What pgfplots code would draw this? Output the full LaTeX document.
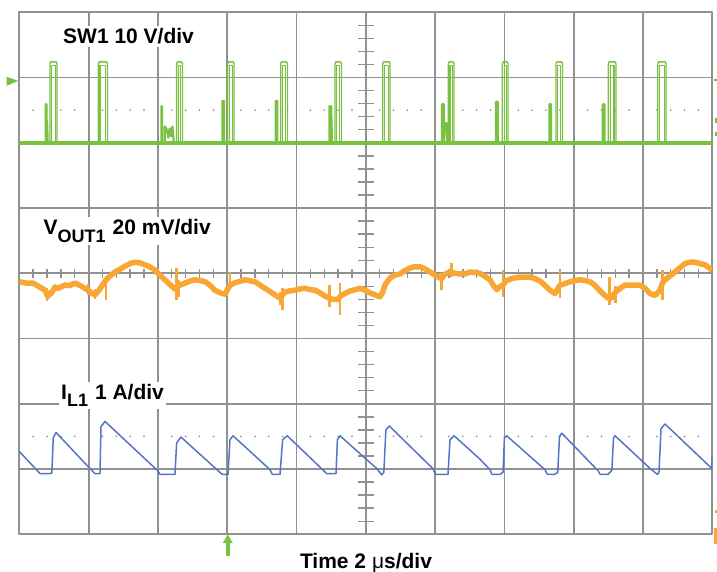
\documentclass[border=0pt]{standalone}
\usepackage{pgfplots}
\pgfplotsset{compat=1.18}
\usepackage{fontspec}
\setmainfont{Liberation Sans}
\definecolor{swgreen}{RGB}{122,193,66}
\definecolor{voorange}{RGB}{248,166,52}
\definecolor{ilblue}{RGB}{84,117,196}
\definecolor{gridgray}{RGB}{145,145,145}
\definecolor{dotgray}{RGB}{150,150,150}

\begin{document}
\begin{tikzpicture}[x=1pt,y=1pt]
\path[use as bounding box] (0,0) rectangle (717,572);
\begin{axis}[
  at={(19.3pt,37.7pt)}, anchor=south west,
  scale only axis, width=693pt, height=522pt,
  xmin=0, xmax=10, ymin=-4, ymax=4,
  xtick={0,...,10}, ytick={-4,...,4},
  xticklabel=\empty, yticklabel=\empty,
  major tick length=0pt,
  grid=major,
  grid style={gridgray, line width=1.8pt},
  axis line style={gridgray, line width=1.8pt},
  unbounded coords=jump,
  line join=round,
]
% graticule ticks on the centre lines
\pgfplotsinvokeforeach{0.2,0.4,...,9.9}{\draw[gridgray, line width=1.4pt] (axis cs:#1,-0.065) -- (axis cs:#1,0.065);}
\pgfplotsinvokeforeach{-3.8,-3.6,...,3.9}{\draw[gridgray, line width=1.4pt] (axis cs:4.885,#1) -- (axis cs:5.115,#1);}
% dotted reference levels
\addplot[dotgray, line width=2pt, line cap=round, dash pattern=on 0pt off 13.86pt] coordinates {(0,2.5) (10,2.5)};
\addplot[dotgray, line width=2pt, line cap=round, dash pattern=on 0pt off 13.86pt] coordinates {(0,-2.5) (10,-2.5)};

% ---------------- SW1 ----------------
\addplot[swgreen, line width=3.5pt] coordinates {(0,2.0) (10,2.0)};
\addplot[swgreen, line width=1.4pt] coordinates {
(0,2.0)
(0.443,2.0)(0.443,3.21)(0.455,3.24)(0.532,3.24)(0.544,3.21)(0.544,2.0)
(1.140,2.0)(1.140,3.21)(1.152,3.24)(1.261,3.24)(1.273,3.21)(1.273,2.0)
(2.270,2.0)(2.270,3.21)(2.282,3.24)(2.343,3.24)(2.355,3.21)(2.355,2.0)
(3.007,2.0)(3.007,3.21)(3.019,3.24)(3.086,3.24)(3.098,3.21)(3.098,2.0)
(3.772,2.0)(3.772,3.21)(3.784,3.24)(3.858,3.24)(3.870,3.21)(3.870,2.0)
(4.556,2.0)(4.556,3.21)(4.568,3.24)(4.637,3.24)(4.649,3.21)(4.649,2.0)
(5.244,2.0)(5.244,3.21)(5.256,3.24)(5.337,3.24)(5.349,3.21)(5.349,2.0)
(6.190,2.0)(6.190,3.21)(6.202,3.24)(6.261,3.24)(6.273,3.21)(6.273,2.0)
(6.970,2.0)(6.970,3.21)(6.982,3.24)(7.040,3.24)(7.052,3.21)(7.052,2.0)
(7.745,2.0)(7.745,3.21)(7.757,3.24)(7.826,3.24)(7.838,3.21)(7.838,2.0)
(8.500,2.0)(8.500,3.21)(8.512,3.24)(8.598,3.24)(8.610,3.21)(8.610,2.0)
(9.212,2.0)(9.212,3.21)(9.224,3.24)(9.320,3.24)(9.332,3.21)(9.332,2.0)
(10,2.0)};
\addplot[swgreen, line width=1.1pt] coordinates {
(0.468,2.0)(0.468,3.19)(0.516,3.19)(0.516,2.0)(0.5,nan)
(1.165,2.0)(1.165,3.19)(1.245,3.19)(1.245,2.0)(1.2,nan)
(2.295,2.0)(2.295,3.19)(2.327,3.19)(2.327,2.0)(2.3,nan)
(3.032,2.0)(3.032,3.19)(3.070,3.19)(3.070,2.0)(3.05,nan)
(3.797,2.0)(3.797,3.19)(3.842,3.19)(3.842,2.0)(3.8,nan)
(4.581,2.0)(4.581,3.19)(4.621,3.19)(4.621,2.0)(4.6,nan)
(5.269,2.0)(5.269,3.19)(5.321,3.19)(5.321,2.0)(5.3,nan)
(6.215,2.0)(6.215,3.19)(6.245,3.19)(6.245,2.0)(6.23,nan)
(6.995,2.0)(6.995,3.19)(7.024,3.19)(7.024,2.0)(7.0,nan)
(7.770,2.0)(7.770,3.19)(7.810,3.19)(7.810,2.0)(7.8,nan)
(8.525,2.0)(8.525,3.19)(8.582,3.19)(8.582,2.0)(8.55,nan)
(9.237,2.0)(9.237,3.19)(9.304,3.19)(9.304,2.0)};
% pre-spikes
\addplot[swgreen, line width=2.2pt] coordinates {
(0.380,2.0)(0.380,2.59)(0.392,2.59)(0.392,2.0)(0.40,2.35)(0.41,2.0)(0.42,nan)
(2.050,2.0)(2.050,2.56)(2.060,2.56)(2.060,2.0)(2.07,nan)
(2.100,2.0)(2.100,2.25)(2.130,2.20)(2.150,2.08)(2.170,2.22)(2.190,2.10)(2.210,2.25)(2.230,2.0)(2.24,nan)
(2.930,2.0)(2.930,2.64)(2.955,2.64)(2.955,2.0)(2.96,nan)
(3.700,2.0)(3.700,2.64)(3.722,2.64)(3.722,2.0)(3.73,nan)
(4.475,2.0)(4.475,2.56)(4.500,2.56)(4.510,2.10)(4.510,2.0)(4.52,nan)
(6.100,2.0)(6.100,2.59)(6.125,2.59)(6.125,2.0)(6.150,2.30)(6.175,2.30)(6.175,2.0)(6.18,nan)
(6.880,2.0)(6.880,2.63)(6.905,2.63)(6.905,2.0)(6.91,nan)
(7.650,2.0)(7.650,2.59)(7.673,2.59)(7.673,2.0)(7.68,nan)
(8.420,2.0)(8.420,2.59)(8.443,2.59)(8.443,2.0)};

% ---------------- VOUT1 ----------------
\addplot[voorange, line width=5.5pt] table {
0.000 -0.13
0.100 -0.15
0.198 -0.15
0.280 -0.20
0.371 -0.26
0.400 -0.33
0.414 -0.36
0.430 -0.30
0.460 -0.31
0.515 -0.21
0.560 -0.23
0.659 -0.18
0.720 -0.19
0.804 -0.15
0.900 -0.20
0.991 -0.26
1.040 -0.30
1.092 -0.33
1.120 -0.30
1.164 -0.24
1.237 -0.12
1.300 -0.05
1.381 0.02
1.450 0.06
1.526 0.11
1.600 0.15
1.670 0.17
1.740 0.16
1.814 0.13
1.880 0.10
1.958 0.05
2.030 -0.03
2.102 -0.10
2.180 -0.18
2.247 -0.24
2.300 -0.19
2.391 -0.15
2.460 -0.12
2.535 -0.10
2.600 -0.11
2.680 -0.13
2.750 -0.18
2.824 -0.26
2.900 -0.30
2.968 -0.32
3.040 -0.18
3.100 -0.15
3.257 -0.10
3.401 -0.13
3.545 -0.23
3.690 -0.33
3.762 -0.38
3.830 -0.29
3.900 -0.27
3.978 -0.26
4.050 -0.24
4.123 -0.23
4.200 -0.25
4.267 -0.26
4.340 -0.30
4.411 -0.35
4.470 -0.38
4.527 -0.40
4.600 -0.40
4.640 -0.34
4.700 -0.31
4.772 -0.27
4.850 -0.25
4.916 -0.23
4.988 -0.26
5.060 -0.30
5.133 -0.33
5.205 -0.36
5.240 -0.30
5.277 -0.18
5.349 -0.07
5.420 -0.03
5.493 -0.01
5.560 0.04
5.638 0.08
5.700 0.10
5.782 0.10
5.850 0.07
5.926 0.02
6.000 -0.03
6.070 -0.07
6.100 -0.08
6.130 -0.02
6.215 0.02
6.290 0.00
6.359 -0.01
6.430 -0.01
6.504 0.02
6.580 0.01
6.648 0.00
6.720 -0.05
6.792 -0.10
6.850 -0.20
6.893 -0.25
6.940 -0.20
6.980 -0.18
7.020 -0.12
7.081 -0.09
7.150 -0.07
7.225 -0.06
7.300 -0.06
7.369 -0.06
7.440 -0.08
7.514 -0.12
7.580 -0.18
7.658 -0.26
7.730 -0.31
7.802 -0.18
7.870 -0.16
7.947 -0.13
8.020 -0.11
8.091 -0.10
8.160 -0.11
8.235 -0.13
8.300 -0.18
8.380 -0.27
8.440 -0.33
8.495 -0.38
8.540 -0.38
8.596 -0.30
8.670 -0.23
8.740 -0.18
8.850 -0.18
8.957 -0.18
9.030 -0.23
9.101 -0.31
9.173 -0.34
9.245 -0.26
9.280 -0.15
9.317 -0.10
9.390 -0.04
9.462 0.02
9.530 0.08
9.606 0.15
9.680 0.17
9.750 0.17
9.820 0.15
9.895 0.13
9.996 0.05
};
% VOUT1 noise spikes
\addplot[voorange, line width=2.6pt] coordinates {
(0.40,-0.42)(0.40,-0.22)(0.45,nan)
(0.99,-0.34)(0.99,-0.16)(1.0,nan)
(1.09,-0.40)(1.09,-0.24)(1.1,nan)
(1.25,-0.41)(1.25,-0.04)(1.3,nan)
(2.27,-0.41)(2.27,0.08)(2.3,nan)
(2.30,-0.36)(2.30,-0.10)(2.4,nan)
(3.04,-0.26)(3.04,0.02)(3.1,nan)
(3.76,-0.48)(3.76,-0.28)(3.77,nan)
(3.80,-0.56)(3.80,-0.23)(3.85,nan)
(4.48,-0.52)(4.48,-0.18)(4.5,nan)
(4.63,-0.64)(4.63,-0.15)(4.7,nan)
(6.09,-0.26)(6.09,0.00)(6.1,nan)
(6.24,-0.06)(6.24,0.16)(6.3,nan)
(6.98,-0.36)(6.98,0.05)(7.0,nan)
(7.80,-0.38)(7.80,0.05)(7.85,nan)
(8.52,-0.49)(8.52,-0.06)(8.55,nan)
(8.60,-0.45)(8.60,-0.20)(8.65,nan)
(9.28,-0.41)(9.28,0.05)};

% ---------------- IL1 ----------------
\addplot[ilblue, line width=1.5pt] table {
0.000 -2.73
0.150 -2.90
0.299 -3.07
0.443 -3.07
0.470 -3.06
0.490 -2.52
0.530 -2.44
1.000 -2.97
1.092 -3.07
1.164 -3.07
1.179 -2.35
1.237 -2.27
2.001 -3.03
2.030 -3.08
2.247 -3.08
2.270 -2.60
2.333 -2.51
2.925 -3.08
3.012 -3.08
3.040 -2.55
3.084 -2.49
3.618 -3.01
3.650 -3.08
3.762 -3.08
3.800 -2.55
3.867 -2.49
4.436 -3.07
4.570 -3.07
4.590 -2.55
4.628 -2.49
4.964 -2.81
5.157 -2.99
5.229 -3.09
5.260 -3.05
5.290 -2.40
5.339 -2.34
5.974 -3.00
6.000 -3.08
6.186 -3.08
6.215 -2.55
6.273 -2.49
6.504 -2.71
6.648 -2.85
6.792 -3.01
6.820 -3.08
6.937 -3.08
6.980 -3.05
7.000 -2.52
7.033 -2.49
7.586 -3.01
7.620 -3.08
7.730 -3.08
7.770 -3.05
7.795 -2.50
7.827 -2.45
8.355 -3.03
8.380 -3.08
8.495 -3.08
8.550 -3.02
8.575 -2.52
8.596 -2.49
9.101 -2.99
9.206 -3.08
9.230 -3.06
9.260 -2.38
9.318 -2.31
9.991 -2.99
10.000 -2.80
};
\end{axis}

% channel labels
\begin{scope}[font=\bfseries\fontsize{21}{25}\selectfont]
\node[anchor=base west, fill=white, inner sep=2.5pt] at (60.5,528) {SW1 10 V/div};
\node[anchor=base west, fill=white, inner sep=2.5pt] at (41,337) {V\raisebox{-7.5pt}{\fontsize{18}{20}\selectfont OUT1}\hspace{7pt}20 mV/div};
\node[anchor=base west, fill=white, inner sep=2.5pt] at (58.5,172) {I\raisebox{-6.7pt}{\fontsize{18}{20}\selectfont L1}\hspace{7pt}1 A/div};
\node[anchor=base] at (366,3.7) {Time 2 {\mdseries μ}s/div};
\end{scope}

% channel / trigger markers
\fill[swgreen] (6.7,495.3) -- (6.7,486.3) -- (18.3,491) -- cycle;
\fill[swgreen] (222.8,29) -- (232.8,29) -- (227.8,37.5) -- cycle;
\fill[swgreen] (225.6,16.3) rectangle (230,29.5);
\fill[swgreen] (714,490.5) rectangle (717,492.5);
\fill[swgreen] (714.5,449) rectangle (716.5,454);
\fill[swgreen] (714.5,436) rectangle (716.5,440);
\fill[voorange] (714.5,59) rectangle (717,62);
\fill[voorange] (714,28) rectangle (717,44);
\end{tikzpicture}
\end{document}
